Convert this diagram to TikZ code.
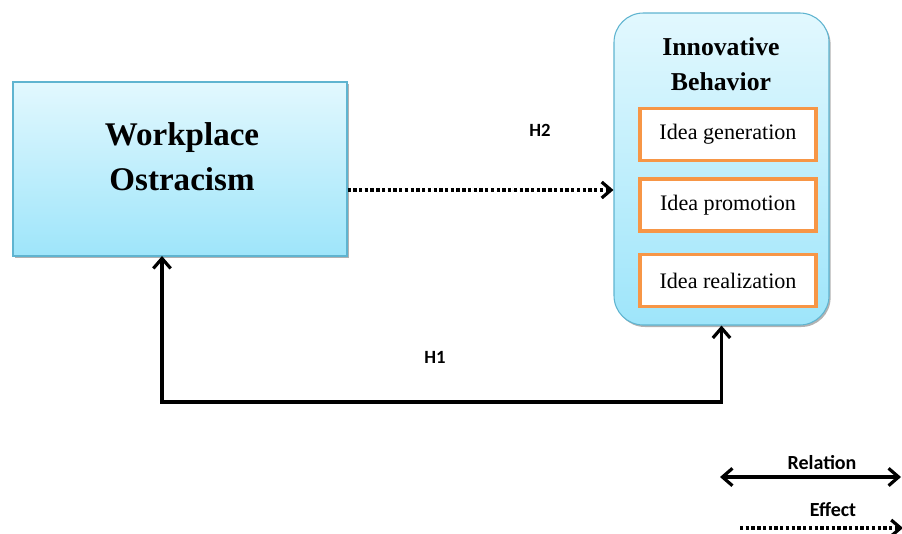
\documentclass[tikz,border=0pt]{standalone}
\usepackage{fontspec}
\setmainfont{Liberation Serif}
\newfontfamily\labfont{Carlito}
\usetikzlibrary{arrows.meta,shadows,calc}
\definecolor{boxtop}{RGB}{226,248,254}
\definecolor{boxbot}{RGB}{158,229,250}
\definecolor{boxline}{RGB}{95,180,208}
\definecolor{orng}{RGB}{247,150,70}
\begin{document}
\begin{tikzpicture}[x=0.75pt,y=-0.75pt,
  bluebox/.style={draw=boxline, line width=0.8pt, top color=boxtop, bottom color=boxbot,
    drop shadow={opacity=0.3, shadow xshift=1.2pt, shadow yshift=-1.5pt, fill=black}},
  ideabox/.style={draw=orng, line width=2.4pt, fill=white, minimum width=132pt,
    minimum height=39pt, inner sep=0pt, font=\fontsize{16.6}{20}\selectfont},
  bigtitle/.style={align=center, font=\fontsize{24.8}{34}\selectfont\bfseries},
  midtitle/.style={align=center, font=\fontsize{19.3}{26}\selectfont\bfseries},
  hlab/.style={font=\labfont\bfseries\fontsize{14}{16}\selectfont},
  leglab/.style={font=\labfont\bfseries\fontsize{15}{17}\selectfont},
  relation/.style={line width=2.4pt, {Straight Barb[length=7.5pt,width=13pt]}-{Straight Barb[length=7.5pt,width=13pt]}},
  effect/.style={line width=2.4pt, dash pattern=on 2.5pt off 1.8pt, -{Straight Barb[length=7pt,width=12pt]}}
]
\useasboundingbox (0,0) rectangle (902,533);

% left box
\node[bluebox, minimum width=250.5pt, minimum height=130.5pt, inner sep=0pt] (wo) at (180,169) {};
\node[bigtitle] (wot) at (182,157) {Workplace\\Ostracism};

% right box
\node[bluebox, rounded corners=22pt, minimum width=161.25pt, minimum height=234pt, inner sep=0pt] (ib) at (721.5,169) {};
\node[midtitle] (ibt) at (721,64) {Innovative\\Behavior};
\node[ideabox] (ig) at (728,134.5) {Idea generation};
\node[ideabox] (ip) at (728,205) {Idea promotion};
\node[ideabox] (ir) at (728,280.5) {Idea realization};

% connectors
\coordinate (ylev) at (0,190);
\draw[effect] (wo.east |- ylev) -- (ib.west |- ylev);
\node[hlab] (h2) at (540,130) {H2};

\coordinate (h1l) at (162,256);
\coordinate (h1b) at (162,402);
\draw[relation] (h1l) -- (h1b) -| (ib.south);
\node[hlab] (h1) at (435,357) {H1};

% legend
\coordinate (ra) at (720,477);
\coordinate (rb) at (901,477);
\draw[relation] (ra) -- (rb);
\node[leglab] (rl) at (822,463) {Relation};
\coordinate (ea) at (740,528);
\coordinate (eb) at (903,528);
\draw[effect] (ea) -- (eb);
\node[leglab] (el) at (833,510) {Effect};
\end{tikzpicture}
\end{document}
